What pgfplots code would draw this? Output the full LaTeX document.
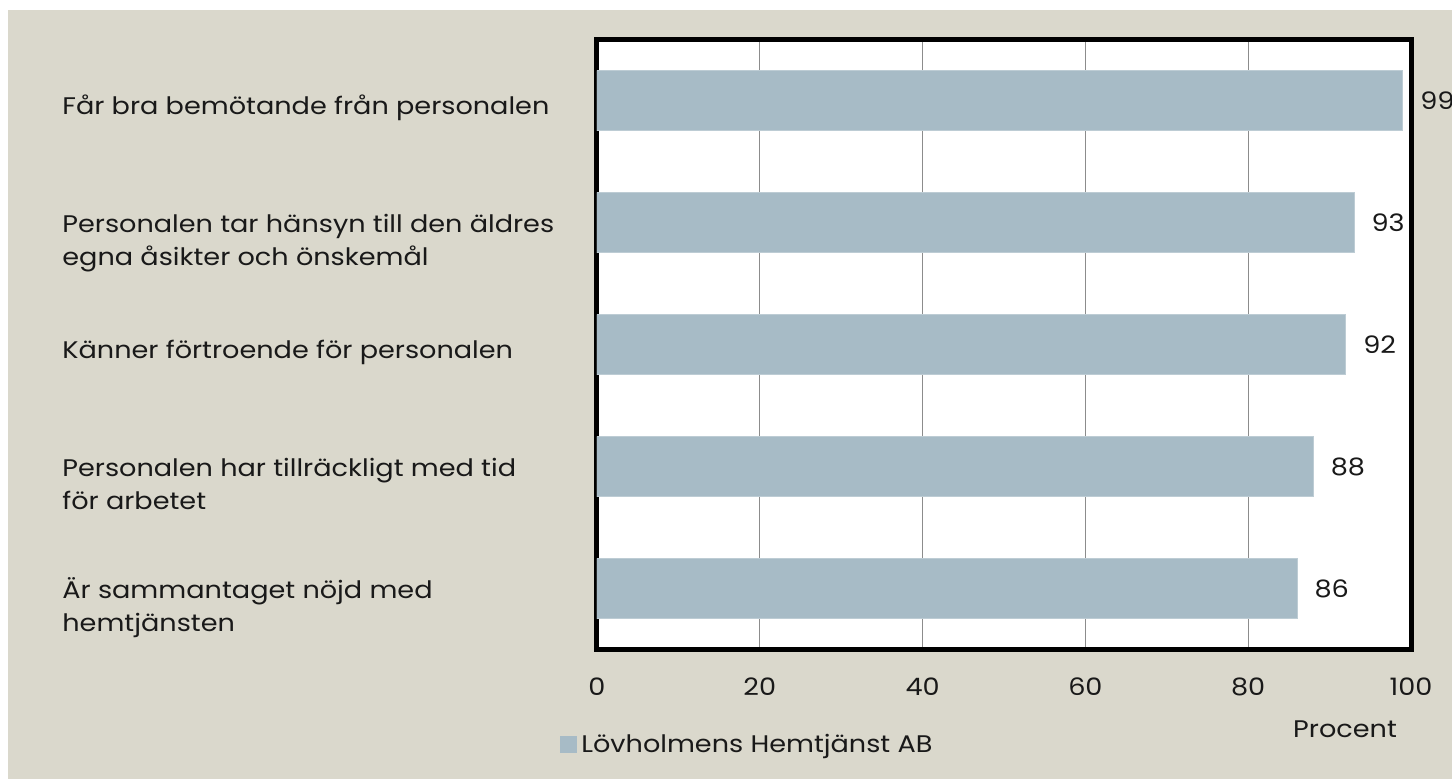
\documentclass[border=0pt]{standalone}
\usepackage{pgfplots}
\pgfplotsset{compat=1.18}
\usepackage{fontspec}
\setmainfont{Poppins}[FakeStretch=1.13]
\definecolor{bgc}{RGB}{218,216,204}
\definecolor{barc}{RGB}{167,187,198}
\definecolor{gridc}{RGB}{140,140,140}
\definecolor{txt}{RGB}{25,25,25}
\newcommand{\tl}[1]{\raisebox{2pt}{\begin{tabular}[t]{@{}l@{}}#1\end{tabular}}}
\begin{document}
\begin{tikzpicture}
\path[use as bounding box] (0,0) rectangle (726pt,389.5pt);
\fill[bgc] (4pt,0) rectangle (726pt,384.5pt);
\begin{axis}[
  at={(298.5pt,64.5pt)}, anchor=south west,
  scale only axis, width=407pt, height=305pt,
  xbar, bar width=30pt,
  xmin=0, xmax=100, ymin=-0.5, ymax=4.5,
  xtick={0,20,40,60,80,100},
  ytick={0,1,2,3,4},
  yticklabels={{\tl{Är sammantaget nöjd med\\hemtjänsten}},
               {\tl{Personalen har tillräckligt med tid\\för arbetet}},
               {Känner förtroende för personalen},
               {\tl{Personalen tar hänsyn till den äldres\\egna åsikter och önskemål}},
               {Får bra bemötande från personalen}},
  major tick length=0pt,
  axis background/.style={fill=white},
  axis line style={line width=2.5pt, black},
  xmajorgrids, grid style={gridc, line width=0.6pt},
  /pgf/number format/assume math mode=true,
  xticklabel style={anchor=center, yshift=-18.5pt, font=\fontsize{12}{17}\selectfont, text=txt},
  yticklabel style={anchor=base west, inner sep=0pt, xshift=-267.5pt, yshift=-7pt,
     font=\fontsize{12}{16.5}\selectfont, text=txt},
  xlabel={Procent},
  xlabel style={at={(axis description cs:0.919,-0.1295)}, anchor=center, font=\fontsize{12}{17}\selectfont, text=txt},
  nodes near coords,
  nodes near coords style={anchor=west, inner sep=0pt, xshift=8.5pt, font=\fontsize{12}{17}\selectfont, text=txt},
  legend style={at={(axis description cs:-0.0455,-0.1557)}, anchor=west, draw=none, fill=none,
     inner xsep=0pt, inner ysep=0pt, font=\fontsize{12}{17}\selectfont, text=txt,
     /tikz/every even column/.append style={column sep=0pt}},
  legend image code/.code={\fill[barc] (0pt,-4pt) rectangle (8pt,4pt);},
  legend cell align=left,
]
\addplot[fill=barc, draw=barc!75!white, line width=0.5pt] coordinates {(86,0) (88,1) (92,2) (93,3) (99,4)};
\addlegendentry{Lövholmens Hemtjänst AB}
\end{axis}
\end{tikzpicture}
\end{document}
